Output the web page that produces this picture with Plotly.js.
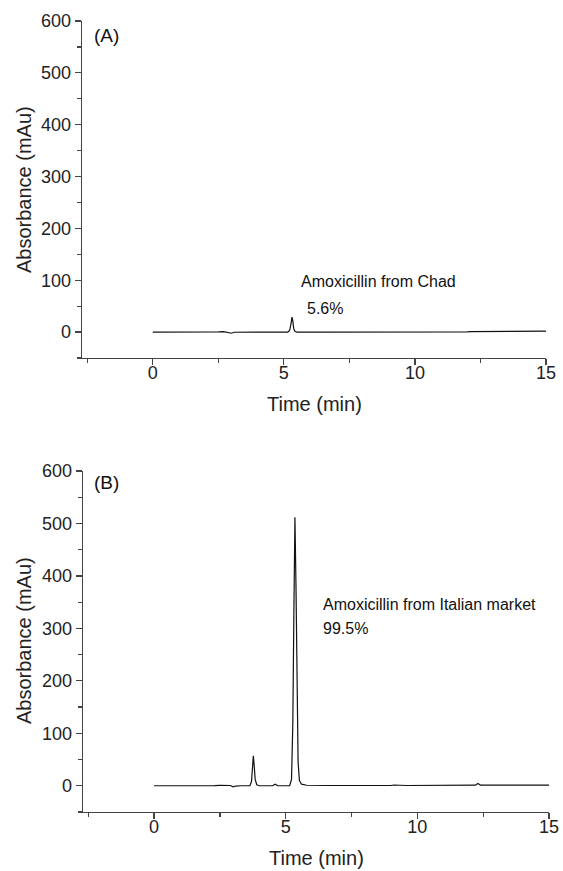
<!DOCTYPE html>
<html>
<head>
<meta charset="utf-8">
<script src="https://cdn.plot.ly/plotly-3.0.1.min.js"></script>
<style>html,body{margin:0;padding:0;background:#fff;}#chart{width:563px;height:871px;}</style>
</head>
<body>
<div id="chart"></div>
<script>
// Panel A: amoxicillin from Chad
const timeA = [0, 1.0, 2.0, 2.1, 2.2, 2.5, 2.7, 2.8, 2.9, 3.0, 3.1, 3.3, 4.0, 5.15, 5.22, 5.27, 5.31, 5.34, 5.38, 5.43, 5.5, 6.0, 6.8, 7.0, 7.2, 8.0, 10.0, 12.0, 12.1, 13.0, 14.2, 14.3, 15.0];
const absA  = [0, 0, 0, -0.6, -0.2, 0.4, 1.0, 0.3, -1.0, -2.2, -0.3, 0, 0, 0, 3, 15, 29, 22, 6, 1, 0, 0, 0, -0.7, -0.3, 0, 0, 0.3, 0.9, 1.0, 1.2, 1.6, 1.8];

// Panel B: amoxicillin from Italian market
const timeB = [0, 1.0, 2.0, 2.1, 2.3, 2.5, 2.8, 2.9, 3.0, 3.1, 3.3, 3.64, 3.7, 3.74, 3.77, 3.8, 3.84, 3.9, 4.0, 4.5, 4.6, 4.7, 5.15, 5.22, 5.27, 5.31, 5.35, 5.39, 5.43, 5.47, 5.52, 5.6, 5.8, 6.3, 6.4, 6.5, 9.0, 9.1, 9.6, 10.2, 12.2, 12.3, 12.4, 13.2, 15.0];
const absB  = [0, 0, 0, -1.0, 0.4, 0.8, 1.2, 0.5, -2.0, -0.5, 0, 0, 8, 35, 57, 40, 12, 2, 0, 0, 3, 0, 0, 12, 120, 330, 512, 380, 160, 45, 10, 3, 1, 0.5, 1.5, 0.5, 0.5, 1.5, 0.5, 0.8, 1.2, 4.5, 1.2, 1.2, 1.2];

const yTicks = [0, 100, 200, 300, 400, 500, 600];
const xTicks = [0, 5, 10, 15];

const FAM = 'Liberation Sans, Arial, sans-serif';
const axisFont = {family: FAM, size: 18, color: '#222'};
const titleFont = {family: FAM, size: 20, color: '#222'};
const annFont = {family: FAM, size: 16, color: '#111'};

function xAxis(domain, anchor) {
  return {
    domain: domain, anchor: anchor, range: [-2.7, 15],
    tickmode: 'array', tickvals: xTicks, ticktext: xTicks.map(String),
    ticks: 'outside', ticklen: 6, tickwidth: 1.2, tickcolor: '#444',
    ticklabelstandoff: -8,
    minor: {dtick: 2.5, tick0: 0, ticks: 'outside', ticklen: 3.5, tickwidth: 1.2, tickcolor: '#444'},
    showline: true, linecolor: '#444', linewidth: 1.3,
    showgrid: false, zeroline: false, tickfont: axisFont
  };
}
function yAxis(domain, anchor) {
  return {
    domain: domain, anchor: anchor, range: [-50, 600],
    tickmode: 'array', tickvals: yTicks, ticktext: yTicks.map(String),
    ticks: 'outside', ticklen: 6, tickwidth: 1.2, tickcolor: '#444',
    minor: {dtick: 50, tick0: 0, ticks: 'outside', ticklen: 3.5, tickwidth: 1.2, tickcolor: '#444'},
    showline: true, linecolor: '#444', linewidth: 1.3,
    showgrid: false, zeroline: false, tickfont: axisFont
  };
}

const W = 563, H = 871;
const data = [
  {x: timeA, y: absA, type: 'scatter', mode: 'lines', line: {color: '#111', width: 1.2}, xaxis: 'x', yaxis: 'y', hoverinfo: 'skip'},
  {x: timeB, y: absB, type: 'scatter', mode: 'lines', line: {color: '#111', width: 1.2}, xaxis: 'x2', yaxis: 'y2', hoverinfo: 'skip'}
];

function ann(text, px, py, font, opts) {
  return Object.assign({text: text, xref: 'paper', yref: 'paper', x: px / W, y: 1 - py / H,
    xanchor: 'left', yanchor: 'middle', showarrow: false, font: font}, opts || {});
}

const layout = {
  width: W, height: H,
  margin: {l: 0, r: 0, t: 0, b: 0},
  paper_bgcolor: '#fff', plot_bgcolor: '#fff',
  showlegend: false,
  xaxis: xAxis([82 / W, 546 / W], 'y'),
  yaxis: yAxis([1 - 358 / H, 1 - 21 / H], 'x'),
  xaxis2: xAxis([83 / W, 549 / W], 'y2'),
  yaxis2: yAxis([1 - 812 / H, 1 - 471 / H], 'x2'),
  annotations: [
    ann('(A)', 92, 35, {family: FAM, size: 19, color: '#111'}),
    ann('(B)', 92, 482, {family: FAM, size: 19, color: '#111'}),
    ann('Amoxicillin from Chad', 299, 282, annFont),
    ann('5.6%', 305, 308, annFont),
    ann('Amoxicillin from Italian market', 321, 604, annFont),
    ann('99.5%', 321, 628, annFont),
    ann('Time (min)', 314, 404, titleFont, {xanchor: 'center'}),
    ann('Time (min)', 316, 858, titleFont, {xanchor: 'center'}),
    ann('Absorbance (mAu)', 24, 190, titleFont, {xanchor: 'center', textangle: -90}),
    ann('Absorbance (mAu)', 24, 641, titleFont, {xanchor: 'center', textangle: -90})
  ]
};

Plotly.newPlot('chart', data, layout, {staticPlot: true, displayModeBar: false});
</script>
</body>
</html>
